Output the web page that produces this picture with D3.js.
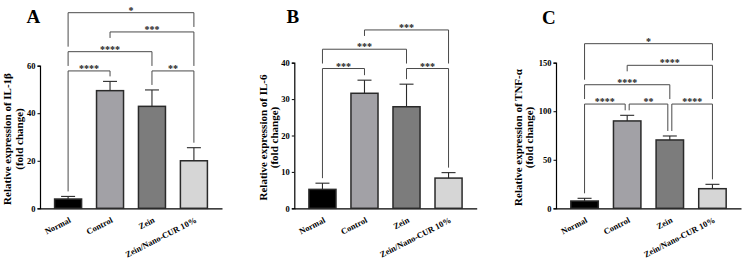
<!DOCTYPE html>
<html>
<head>
<meta charset="utf-8">
<script src="https://cdn.jsdelivr.net/npm/d3@7"></script>
<style>
  body { margin: 0; background: #fff; }
  svg { display: block; font-family: "Liberation Serif", "Times New Roman", serif; font-weight: bold; }
</style>
</head>
<body>
<svg id="chart"></svg>
<script>
const groups = ["Normal", "Control", "Zein", "Zein/Nano-CUR 10%"];
const barColors = ["#000000", "#a2a1a6", "#7c7c7c", "#d6d6d6"];

// IL-1β
const il1bMeans = [3.9, 49.5, 42.9, 20.0];
const il1bErrors = [1.1, 3.9, 6.9, 5.5];
const il1bTicks = [0, 20, 40, 60];
// [from, to, label, bracket level in data units]
const il1bBrackets = [
  [0, 1, "****", 57.8],
  [2, 3, "**", 57.8],
  [0, 2, "****", 65.9],
  [1, 3, "***", 74.2],
  [0, 3, "*", 82.3]
];

// IL-6
const il6Means = [5.2, 31.6, 27.9, 8.3];
const il6Errors = [1.7, 3.6, 6.2, 1.5];
const il6Ticks = [0, 10, 20, 30, 40];
const il6Brackets = [
  [0, 1, "***", 38.4],
  [2, 3, "***", 38.4],
  [0, 2, "***", 43.7],
  [1, 3, "***", 49.0]
];

// TNF-α
const tnfMeans = [7.5, 90.0, 70.4, 20.2];
const tnfErrors = [2.8, 5.8, 4.1, 4.5];
const tnfTicks = [0, 50, 100, 150];
const tnfBrackets = [
  [0, 1, "****", 107.4],
  [1, 2, "**", 107.4],
  [2, 3, "****", 107.4],
  [0, 2, "****", 127.3],
  [1, 3, "****", 147.3],
  [0, 3, "*", 169.6]
];

const width = 743;
const height = 268;
const axisBottom = 208.3;

const svg = d3.select("#chart")
  .attr("width", width)
  .attr("height", height);

const panels = [
  { letter: "A", letterX: 26.5, letterY: 22.7, left: 40, right: 222, top: 65.7, max: 60,
    means: il1bMeans, errors: il1bErrors, ticks: il1bTicks, brackets: il1bBrackets,
    label: "Relative expression of IL-1β", labelX: 7.5 },
  { letter: "B", letterX: 286.5, letterY: 22.7, left: 294.3, right: 476.7, top: 62.7, max: 40,
    means: il6Means, errors: il6Errors, ticks: il6Ticks, brackets: il6Brackets,
    label: "Relative expression of IL-6", labelX: 262.7 },
  { letter: "C", letterX: 542, letterY: 24, left: 556, right: 741, top: 62.7, max: 150,
    means: tnfMeans, errors: tnfErrors, ticks: tnfTicks, brackets: tnfBrackets,
    label: "Relative expression of TNF-α", labelX: 518 }
];

panels.forEach(drawPanel);

function drawPanel(p) {
  const g = svg.append("g");

  const xScale = d3.scaleBand()
    .domain(groups)
    .range([p.left, p.right])
    .paddingInner(0.356)
    .paddingOuter(0.348);

  const yScale = d3.scaleLinear()
    .domain([0, p.max])
    .range([axisBottom, p.top]);

  const cx = i => xScale(groups[i]) + xScale.bandwidth() / 2;

  // panel letter
  g.append("text")
    .attr("x", p.letterX)
    .attr("y", p.letterY)
    .attr("font-size", "19px")
    .text(p.letter);

  //y axis
  const yAxis = g.append("g")
    .attr("transform", `translate(${p.left}, 0)`)
    .call(d3.axisLeft(yScale).tickValues(p.ticks).tickSize(2.5).tickPadding(2));

  yAxis.select(".domain").attr("stroke", "#000").attr("stroke-width", 1.2);
  yAxis.selectAll(".tick line").attr("stroke", "#000").attr("stroke-width", 1);
  yAxis.selectAll(".tick text")
    .attr("fill", "#000")
    .style("font-family", "Liberation Serif, serif")
    .style("font-weight", "bold")
    .style("font-size", "8.5px");

  //x axis
  const xAxis = g.append("g")
    .attr("transform", `translate(0, ${axisBottom})`)
    .call(d3.axisBottom(xScale).tickSize(0).tickPadding(0));

  xAxis.select(".domain").attr("stroke", "#000").attr("stroke-width", 1.2);
  xAxis.selectAll(".tick text")
    .attr("fill", "#000")
    .attr("text-anchor", "end")
    .attr("dy", "0.35em")
    .attr("y", 0)
    .attr("transform", `translate(2, 11) rotate(-27)`)
    .style("font-family", "Liberation Serif, serif")
    .style("font-weight", "bold")
    .style("font-size", "8.5px");

  //y label
  const labelY = (p.top + axisBottom) / 2 + 2;
  const label = g.append("text")
    .attr("transform", `translate(${p.labelX}, ${labelY}) rotate(-90)`)
    .attr("text-anchor", "middle")
    .attr("font-size", "11px");
  label.append("tspan").attr("x", 0).attr("dy", "0.35em").text(p.label);
  label.append("tspan").attr("x", 0).attr("dy", "1.05em").text("(fold change)");

  //bars
  g.selectAll(".bar")
    .data(p.means)
    .enter()
    .append("rect")
    .attr("class", "bar")
    .attr("x", (d, i) => xScale(groups[i]))
    .attr("y", d => yScale(d))
    .attr("width", xScale.bandwidth())
    .attr("height", d => axisBottom - yScale(d))
    .attr("fill", (d, i) => barColors[i])
    .attr("stroke", "#2a2a2a")
    .attr("stroke-width", 1.5);

  //error bars (upper only)
  const errTop = i => yScale(p.means[i] + p.errors[i]);
  p.means.forEach((m, i) => {
    g.append("line")
      .attr("x1", cx(i)).attr("x2", cx(i))
      .attr("y1", yScale(m)).attr("y2", errTop(i))
      .attr("stroke", "#2a2a2a").attr("stroke-width", 1.1);
    g.append("line")
      .attr("x1", cx(i) - 7).attr("x2", cx(i) + 7)
      .attr("y1", errTop(i)).attr("y2", errTop(i))
      .attr("stroke", "#2a2a2a").attr("stroke-width", 1.1);
  });

  //significance brackets
  const gap = 5;
  const bs = p.brackets.map(b => ({ i: b[0], j: b[1], text: b[2], y: yScale(b[3]) }));

  function legBottom(b, k) {
    const lower = bs.filter(o => o.y > b.y + 0.5);
    const ends = lower.filter(o => o.i === k || o.j === k);
    let bottom = ends.length ? d3.min(ends, o => o.y) - gap : errTop(k) - gap;
    const crossing = lower.filter(o => o.i < k && o.j > k && o.y < bottom);
    if (crossing.length) bottom = b.y + 6;
    return bottom;
  }

  function endX(b, k, side) {
    const shared = bs.some(o => o !== b && Math.abs(o.y - b.y) < 0.5 && (o.i === k || o.j === k));
    if (!shared) return cx(k);
    return side === "left" ? cx(k) + 2 : cx(k) - 2;
  }

  bs.forEach(b => {
    const x1 = endX(b, b.i, "left");
    const x2 = endX(b, b.j, "right");
    g.append("path")
      .attr("d", `M${x1},${legBottom(b, b.i)}V${b.y}H${x2}V${legBottom(b, b.j)}`)
      .attr("fill", "none")
      .attr("stroke", "#4a4a4a")
      .attr("stroke-width", 1);
    g.append("text")
      .attr("x", (x1 + x2) / 2)
      .attr("y", b.y + 1)
      .attr("text-anchor", "middle")
      .attr("font-size", "10px")
      .attr("fill", "#222")
      .text(b.text);
  });
}
</script>
</body>
</html>
